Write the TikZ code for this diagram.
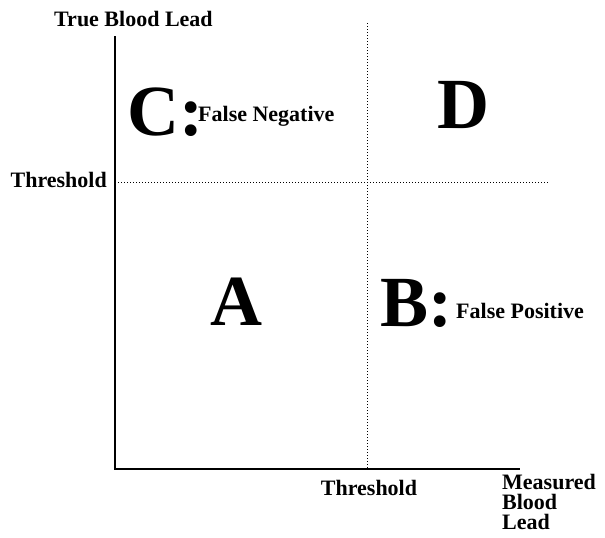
\documentclass[tikz,border=0pt]{standalone}
\usepackage{fontspec}
\setmainfont{Liberation Serif}
\usetikzlibrary{positioning}

\tikzset{
  bigletter/.style={font=\fontsize{72}{72}\selectfont\bfseries},
  axislabel/.style={font=\fontsize{22}{20}\selectfont\bfseries},
  thresholdline/.style={dash pattern=on 1.4pt off 1.6pt, line width=1pt}
}

\begin{document}
\begin{tikzpicture}[x=1pt, y=-1pt, every node/.style={inner sep=0pt, axislabel}]
  \useasboundingbox (0,0) rectangle (605,538);
  \coordinate (origin) at (115,469);
  \coordinate (ytop) at (115,36);
  \coordinate (xend) at (520,469);
  \coordinate (vtop) at (367,23);
  \coordinate (vbot) at (367,469);
  \coordinate (hleft) at (115,182);
  \coordinate (hright) at (548,182);

  \draw[line width=1.5pt] (ytop) -- (origin) -- (xend);
  \draw[thresholdline] (vtop) -- (vbot);
  \draw[thresholdline] (hleft) -- (hright);

  \node[anchor=base west] (ylabel) at (54,26) {True Blood Lead};
  \node[anchor=base east] (ythresh) at (107,187) {Threshold};
  \node[anchor=base] (xthresh) at (369,495) {Threshold};
  \node[anchor=north west, align=left] (xlabel) at (502,474) {Measured\\Blood\\Lead};

  \node[bigletter, anchor=base west] (regC) at (127,135) {C:};
  \node[anchor=base west] (falseneg) at (198,121) {False Negative};
  \node[bigletter, anchor=base] (regD) at (463,128) {D};
  \node[bigletter, anchor=base] (regA) at (236,325) {A};
  \node[bigletter, anchor=base west] (regB) at (380,326) {B:};
  \node[anchor=base west] (falsepos) at (456,318) {False Positive};
\end{tikzpicture}
\end{document}
